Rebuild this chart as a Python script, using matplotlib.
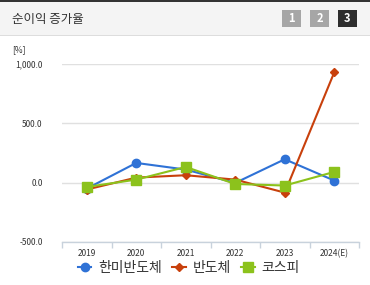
import numpy as np
import matplotlib.pyplot as plt
from matplotlib.patches import Rectangle

plt.rcParams['font.family'] = ['Noto Sans CJK KR', 'DejaVu Sans']

years = ['2019', '2020', '2021', '2022', '2023', '2024(E)']
hanmi = [-51, 166, 110, -3, 197, 17]
semi = [-59, 42, 62, 25, -85, 932]
kospi = [-37, 25, 132, -12, -25, 90]
series_names = ['한미반도체', '반도체', '코스피']
yticks = [-500, 0, 500, 1000]


def main():
    fig = plt.figure(figsize=(3.7, 2.85), dpi=100)
    W, H = 370., 285.

    ### header bar
    fig.patches.append(Rectangle((0, 1 - 35/H), 1, 35/H, transform=fig.transFigure,
                                 facecolor='#f4f4f4', edgecolor='none', zorder=0))
    fig.patches.append(Rectangle((0, 1 - 2/H), 1, 2/H, transform=fig.transFigure,
                                 facecolor='#333333', edgecolor='none', zorder=1))
    fig.patches.append(Rectangle((0, 1 - 36/H), 1, 1/H, transform=fig.transFigure,
                                 facecolor='#dddddd', edgecolor='none', zorder=1))
    fig.text(12/W, 1 - 19/H, '순이익 증가율', fontsize=9, color='#333333', va='center', ha='left')
    for lab, x0, col in [('1', 282, '#a6a6a6'), ('2', 310, '#a6a6a6'), ('3', 338, '#2e2e2e')]:
        fig.patches.append(Rectangle((x0/W, 1 - 27/H), 19/W, 17/H, transform=fig.transFigure,
                                     facecolor=col, edgecolor='none', zorder=1))
        fig.text((x0 + 9.5)/W, 1 - 18.5/H, lab, fontsize=8, color='white', fontweight='bold',
                 ha='center', va='center', zorder=2)

    fig.text(12/W, 1 - 50/H, '[%]', fontsize=6, color='#333333', va='center', ha='left')

    ### plot area
    ax = fig.add_axes([62/W, 1 - 241.7/H, 297/W, (241.7 - 64.3)/H])
    x = np.arange(len(years))
    props = dict(lw=1.5, clip_on=False)
    ax.plot(x, hanmi, color='#2f72d6', marker='o', ms=6, mec='#2f72d6', zorder=3, **props)
    ax.plot(x, semi, color='#c8400c', marker='D', ms=4, mec='#c8400c', zorder=4, **props)
    ax.plot(x, kospi, color='#8cc21c', marker='s', ms=6.5, mec='#8cc21c', zorder=5, **props)

    ax.set_xlim(-0.5, len(years) - 0.5)
    ax.set_ylim(-500, 1000)
    ax.set_yticks(yticks)
    ax.set_yticklabels(['{:,.1f}'.format(v) for v in yticks], fontsize=6, color='#333333')
    ax.set_xticks(x)
    ax.set_xticklabels(years, fontsize=6, color='#333333')
    ax.set_xticks(np.arange(len(years) + 1) - 0.5, minor=True)
    ax.tick_params(axis='x', which='major', length=0, pad=5)
    ax.tick_params(axis='x', which='minor', length=4, color='#c8d2dc', width=1)
    ax.tick_params(axis='y', length=0, pad=14)
    ax.grid(axis='y', color='#e0e0e0', lw=1)
    ax.set_axisbelow(True)
    for s in ['top', 'right', 'left']:
        ax.spines[s].set_visible(False)
    ax.spines['bottom'].set_color('#c8d2dc')
    ax.spines['bottom'].set_linewidth(1)

    handles = ax.get_lines()
    fig.legend(handles, series_names, loc='center', bbox_to_anchor=(0.51, 1 - 268/H), ncol=3,
               frameon=False, fontsize=10, handlelength=1.0, handletextpad=0.5,
               columnspacing=0.7, labelcolor='#333333')

    plt.savefig('out.png', dpi=100)


if __name__ == '__main__':
    main()
